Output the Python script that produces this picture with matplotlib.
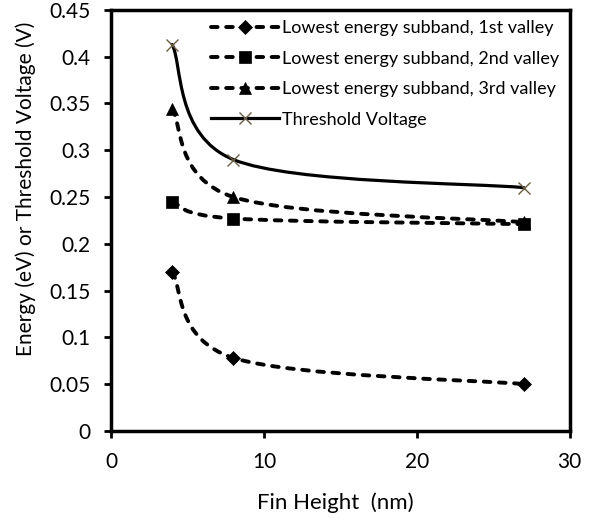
import numpy as np
import matplotlib
matplotlib.use("Agg")
import matplotlib.pyplot as plt
from matplotlib.path import Path
from matplotlib.patches import PathPatch
from matplotlib.lines import Line2D

plt.rcParams['font.family'] = ['Lato', 'DejaVu Sans']

fin_height = [4, 8, 27]
valley1 = [0.170, 0.078, 0.050]
valley2 = [0.245, 0.227, 0.221]
valley3 = [0.344, 0.250, 0.223]
vth = [0.413, 0.290, 0.260]

labels = ['Lowest energy subband, 1st valley',
          'Lowest energy subband, 2nd valley',
          'Lowest energy subband, 3rd valley',
          'Threshold Voltage']


def smooth_path(x, y, t=1/6.):
    # Excel-like smoothed line: Catmull-Rom turned into cubic Bezier segments
    p = np.column_stack([x, y]).astype(float)
    n = len(p)
    verts = [p[0]]
    codes = [Path.MOVETO]
    for i in range(n - 1):
        p0 = p[i - 1] if i > 0 else p[i]
        p3 = p[i + 2] if i + 2 < n else p[i + 1]
        c1 = p[i] + (p[i + 1] - p0) * t
        c2 = p[i + 1] - (p3 - p[i]) * t
        verts += [c1, c2, p[i + 1]]
        codes += [Path.CURVE4] * 3
    return Path(verts, codes)


fig = plt.figure(figsize=(6.1, 5.21), dpi=100)
ax = fig.add_axes([0.182, 0.173, 0.752, 0.808])

dash = (0, (1.7, 2.2))
series = [
    (valley1, dash, 'D', 7, 'black'),
    (valley2, dash, 's', 9, 'black'),
    (valley3, dash, '^', 9, 'black'),
    (vth, '-', 'x', 9, '#6b5e45'),
]
handles = []
for (vals, ls, mk, ms, mc), lab in zip(series, labels):
    lw = 2.8 if ls != '-' else 2.3
    patch = PathPatch(smooth_path(fin_height, vals), fill=False, edgecolor='black',
                      linewidth=lw, linestyle=ls, capstyle='round')
    ax.add_patch(patch)
    mew = 1.0 if mk == 'x' else 0.5
    ax.plot(fin_height, vals, linestyle='none', marker=mk, markersize=ms,
            color=mc, markeredgecolor=mc, markeredgewidth=mew, zorder=3)
    h = Line2D([], [], color='black', linewidth=lw, linestyle=ls,
               marker=mk, markersize=ms, markerfacecolor=mc,
               markeredgecolor=mc, markeredgewidth=mew)
    h.set_dash_capstyle('round')
    handles.append(h)

ax.set_xlim(0, 30)
ax.set_ylim(0, 0.45)
ax.set_xticks([0, 10, 20, 30])
ax.set_yticks(np.arange(0, 0.451, 0.05))
ax.set_yticklabels(['0', '0.05', '0.1', '0.15', '0.2', '0.25', '0.3', '0.35', '0.4', '0.45'])

for s in ax.spines.values():
    s.set_linewidth(2.5)
ax.tick_params(direction='out', length=5, width=2, labelsize=15, pad=10)

ax.set_xlabel('Fin Height  (nm)', fontsize=16)
ax.xaxis.set_label_coords(0.49, -0.145)
ax.set_ylabel('Energy (eV) or Threshold Voltage (V)', fontsize=15)
ax.yaxis.set_label_coords(-0.163, 0.575)

ax.legend(handles, labels, loc='upper right', frameon=False, fontsize=13,
          handlelength=3.8, handletextpad=0.15, labelspacing=0.8,
          borderaxespad=0.0, borderpad=0.58, bbox_to_anchor=(1.0, 1.0))

fig.savefig('out.png', dpi=100)
